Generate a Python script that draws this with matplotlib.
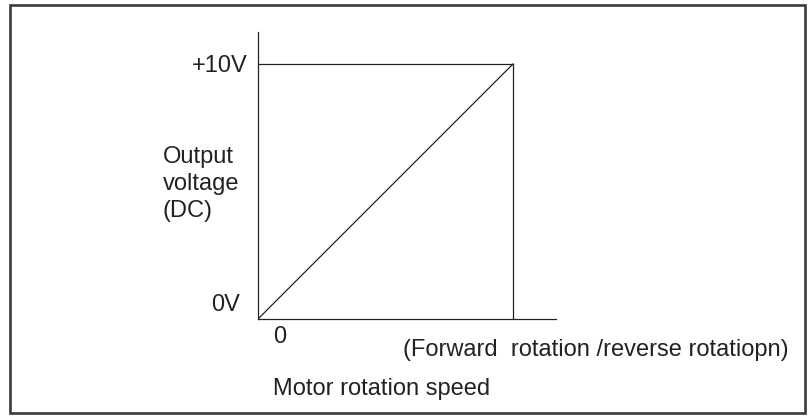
import matplotlib
matplotlib.use("Agg")
import matplotlib.pyplot as plt
from matplotlib.patches import Rectangle

plt.rcParams['font.family'] = ['Liberation Sans', 'DejaVu Sans']

# output characteristic: speed (fraction of max) vs DC voltage
speed = [0.0, 1.0]
voltage = [0.0, 10.0]
v_labels = ["0V", "+10V"]
speed_label = "0"
y_title = "Output\nvoltage\n(DC)"
x_note = "(Forward  rotation /reverse rotatiopn)"
x_title = "Motor rotation speed"

W, H = 808, 416
fig = plt.figure(figsize=(W / 100, H / 100), dpi=100)

# full-size canvas in pixel coordinates for frame and captions
bg = fig.add_axes([0, 0, 1, 1])
bg.set_xlim(0, W)
bg.set_ylim(H, 0)
bg.axis("off")
bg.add_patch(Rectangle((9.5, 5), W - 3 - 9.5, H - 3 - 5, fill=False,
                       edgecolor="#3a3a3a", linewidth=1.9))

# plot area: origin at (258, 319) px, full scale at (513, 64) px
x0, y0 = 258, 319
px_per_x = 255
px_per_v = 25.5
x_end, y_top = 556, 32
ax = fig.add_axes([x0 / W, (H - y0) / H, (x_end - x0) / W, (y0 - y_top) / H])
ax.set_xlim(0, (x_end - x0) / px_per_x)
ax.set_ylim(0, (y0 - y_top) / px_per_v)
ax.patch.set_alpha(0)
for s in ("top", "right"):
    ax.spines[s].set_visible(False)
for s in ("left", "bottom"):
    ax.spines[s].set_linewidth(0.9)
    ax.spines[s].set_color("#222222")
ax.set_xticks([])
ax.set_yticks([])

lw = 0.9
ax.plot(speed, voltage, color="#222222", lw=lw)
ax.plot([0, speed[1]], [voltage[1], voltage[1]], color="#222222", lw=lw)
ax.plot([speed[1], speed[1]], [0, voltage[1]], color="#222222", lw=lw)

fs = 17
tc = "#222222"
bg.text(248, 66, v_labels[1], ha="right", va="center", fontsize=fs, color=tc)
bg.text(240, 305, v_labels[0], ha="right", va="center", fontsize=fs, color=tc)
bg.text(163, 184, y_title, ha="left", va="center", fontsize=fs, color=tc,
        linespacing=1.3)
bg.text(273, 337, speed_label, ha="left", va="center", fontsize=fs, color=tc)
bg.text(403, 350, x_note, ha="left", va="center", fontsize=fs, color=tc)
bg.text(273, 389, x_title, ha="left", va="center", fontsize=fs, color=tc)

fig.savefig("out.png", dpi=100, facecolor="white")
